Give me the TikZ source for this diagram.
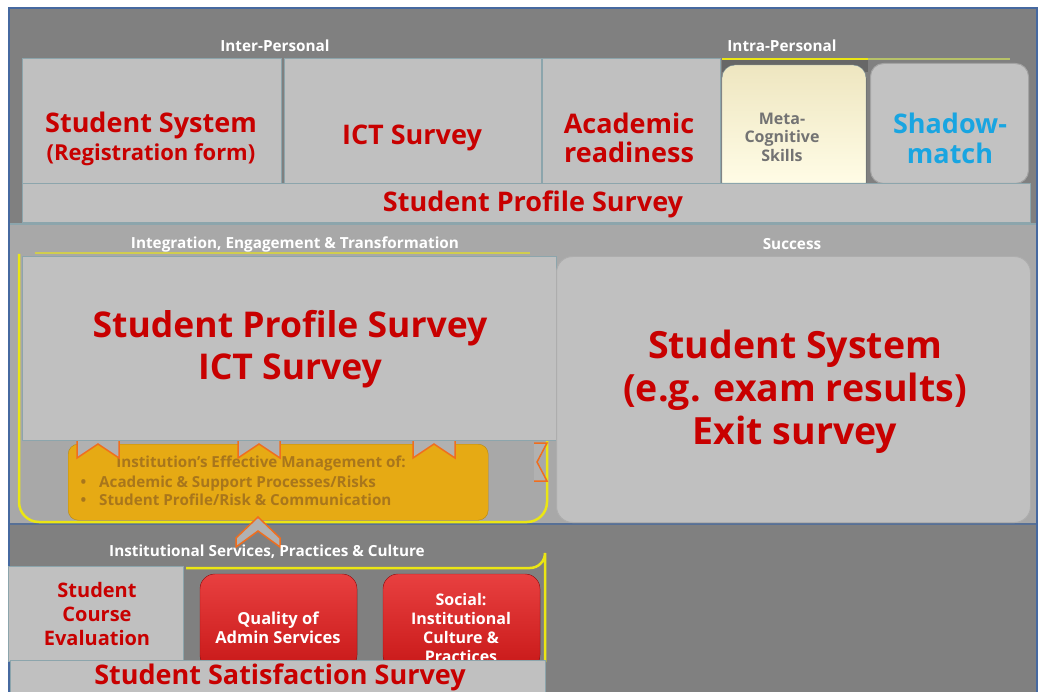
\documentclass[tikz,border=0pt]{standalone}
\usepackage{fontspec}
\setmainfont{Open Sans}
\usetikzlibrary{positioning}

\definecolor{panelgray}{RGB}{128,128,128}
\definecolor{midgray}{RGB}{168,168,168}
\definecolor{cellgray}{RGB}{192,192,192}
\definecolor{cellline}{RGB}{140,165,172}
\definecolor{frameblue}{RGB}{70,105,160}
\definecolor{svred}{RGB}{200,0,0}
\definecolor{shadowcyan}{RGB}{25,165,225}
\definecolor{metagray}{RGB}{115,115,115}
\definecolor{creamtop}{RGB}{238,230,192}
\definecolor{creambot}{RGB}{255,252,230}
\definecolor{goldfill}{RGB}{230,170,20}
\definecolor{goldtext}{RGB}{168,118,28}
\definecolor{chevorange}{RGB}{240,110,30}
\definecolor{yellowline}{RGB}{235,230,20}
\definecolor{redtop}{RGB}{232,64,64}
\definecolor{redbot}{RGB}{200,24,24}

\tikzset{
  cell/.style={draw=cellline, fill=cellgray, line width=1pt, anchor=north west, inner sep=0pt},
  hdr/.style={text=white, font=\bfseries\fontsize{15.3}{17}\selectfont},
  redtxt/.style={text=svred, align=center, font=\bfseries\fontsize{27}{29}\selectfont},
  bigred/.style={text=svred, align=center, font=\bfseries\fontsize{35.5}{42}\selectfont},
  whitetxt/.style={text=white, align=center, font=\bfseries\fontsize{16.5}{19}\selectfont},
  goldtxt/.style={text=goldtext, font=\bfseries\fontsize{15.2}{18}\selectfont},
  chev/.style={fill=midgray!90!white, draw=chevorange, line width=1.5pt, line join=miter},
  yline/.style={draw=yellowline, line width=2.5pt},
}

\begin{document}
\begin{tikzpicture}[x=1pt, y=-1pt]
\useasboundingbox (0,0) rectangle (1041,692);
\fill[white] (0,0) rectangle (1041,692);

% panels
\fill[panelgray] (9,8) rectangle (1037,224);
\fill[midgray] (9,224) rectangle (1037,524);
\fill[panelgray] (9,524) rectangle (1037,692);
\draw[cellline, line width=1.5pt] (9,224) -- (1037,224);
\draw[frameblue!70!panelgray, line width=2.5pt] (9,524) -- (1037,524);
\draw[frameblue, line width=2pt] (9,692) -- (9,8) -- (1037,8) -- (1037,692);

% top: inter / intra personal
\node[hdr] (interlbl) at (275,46) {Inter-Personal};
\node[hdr] (intralbl) at (782,46) {Intra-Personal};

\fill[panelgray!80!black] (722,59) rectangle (868,72);
\draw[yline] (722,59) -- (868,59);
\draw[yellowline!45!cellline, line width=1.5pt] (868,59) -- (1010,59);

\node[cell, minimum width=259pt, minimum height=125pt] (regbox) at (22,58) {};
\node[cell, minimum width=257pt, minimum height=125pt] (ictbox) at (284,58) {};
\node[cell, minimum width=178pt, minimum height=125pt] (acadbox) at (542,58) {};
\fill[top color=creamtop, bottom color=creambot, draw=cellline]
  (722,183) [rounded corners=13pt] -- (722,65) -- (866,65) [sharp corners] -- (866,183) -- cycle;
\node[cell, rounded corners=13pt, fill=cellgray!97!white, draw=cellgray!85!black,
  minimum width=158pt, minimum height=120pt] (shadowbox) at (870,63) {};

\node[redtxt] (regtxt) at (151,139)
  {Student System\\[-1pt]{\fontsize{22}{26}\selectfont (Registration form)}};
\node[redtxt] (icttxt) at (412,138) {ICT Survey};
\node[redtxt] (acadtxt) at (629,138) {Academic\\readiness};
\node[text=metagray, align=center, font=\bfseries\fontsize{16}{18.5}\selectfont]
  (metatxt) at (782,137) {Meta-\\Cognitive\\Skills};
\node[redtxt, text=shadowcyan, font=\bfseries\fontsize{27}{30}\selectfont]
  (shadowtxt) at (950,138) {Shadow-\\match};

\node[cell, minimum width=1008pt, minimum height=39pt] (profbar) at (22,183) {};
\node[redtxt] (proftxt) at (533,204) {Student Profile Survey};

% middle: integration / success
\node[hdr] (integlbl) at (295,244) {Integration, Engagement \& Transformation};
\node[hdr] (successlbl) at (792,244) {Success};

\draw[yellowline!60!midgray, line width=1.2pt] (35,253) -- (530,253);
\draw[yline, rounded corners=20pt] (19,254) -- (19,522) -- (547,522) -- (547,440);
\node[cell, minimum width=534pt, minimum height=184pt] (leftbig) at (22,256) {};
\node[bigred] (lefttxt) at (290,349) {Student Profile Survey\\ICT Survey};

\node[cell, rounded corners=16pt, draw=cellgray!90!black, minimum width=474pt,
  minimum height=266pt] (rightbig) at (556,256) {};
\node[bigred, font=\bfseries\fontsize{37.5}{43}\selectfont] (righttxt) at (795,392)
  {Student System\\(e.g. exam results)\\Exit survey};

% gold management box and chevrons
\node[fill=goldfill, draw=goldfill!80!black, rounded corners=10pt, anchor=north west,
  minimum width=420pt, minimum height=76pt, inner sep=0pt] (goldbox) at (68,444) {};
\node[goldtxt] (goldhead) at (261,464) {Institution’s Effective Management of:};
\node[goldtxt, align=left, anchor=west] (goldlist) at (77,491)
  {\textbullet\hspace{13pt}Academic \& Support Processes/Risks\\
   \textbullet\hspace{13pt}Student Profile/Risk \& Communication};

\foreach \cx in {98,259,434}
  \filldraw[chev] (\cx-21,441) -- (\cx-21,458) -- (\cx,444) -- (\cx+21,458) -- (\cx+21,441);
\filldraw[chev] (534,443) -- (547,443) -- (537,462) -- (547,481) -- (534,481);
\filldraw[chev] (236,547) -- (236,538) -- (258,517) -- (280,538) -- (280,547) -- (258,531) -- cycle;

% bottom: services, practices & culture
\node[hdr] (instlbl) at (267,552) {Institutional Services, Practices \& Culture};

\draw[yline] (186,568) -- (530,568) arc[start angle=90, end angle=0, radius=15] -- (545,662);
\node[cell, minimum width=175pt, minimum height=95pt] (coursebox) at (8,566) {};
\node[redtxt, font=\bfseries\fontsize{20}{24}\selectfont] (coursetxt) at (97,614)
  {Student\\Course\\Evaluation};

\fill[top color=redtop, bottom color=redbot, draw=redbot!80!black, rounded corners=15pt]
  (200,670) rectangle (357,574);
\fill[top color=redtop, bottom color=redbot, draw=redbot!80!black, rounded corners=15pt]
  (383,670) rectangle (540,574);
\node[whitetxt] (admintxt) at (278,628) {Quality of\\Admin Services};
\node[whitetxt, font=\bfseries\fontsize{16}{19}\selectfont] (socialtxt) at (461,628)
  {Social:\\Institutional\\Culture \&\\Practices};

\node[cell, minimum width=535pt, minimum height=34pt] (satbar) at (10,660) {};
\node[redtxt] (sattxt) at (280,677) {Student Satisfaction Survey};
\end{tikzpicture}
\end{document}
